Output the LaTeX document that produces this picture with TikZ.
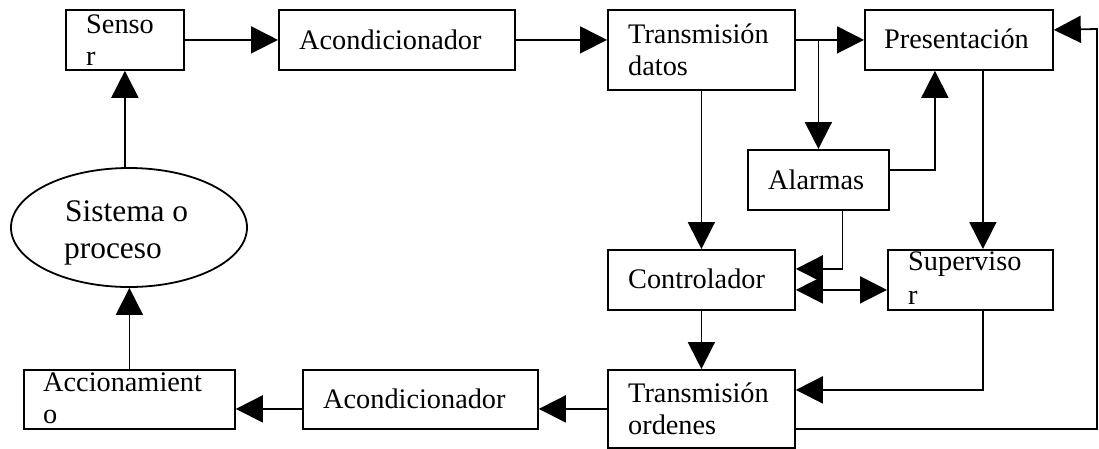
\documentclass[tikz,border=0pt]{standalone}
\usepackage{fontspec}
\setmainfont{Liberation Serif}
\usetikzlibrary{arrows.meta,shapes.geometric}

\begin{document}
\begin{tikzpicture}[x=1pt,y=-1pt,
  box/.style={draw, line width=1.8pt, rectangle, inner sep=0pt, anchor=north west},
  lbl/.style={anchor=base west, inner sep=0pt, font=\fontsize{28.3}{32}\selectfont},
  biglbl/.style={anchor=base west, inner sep=0pt, font=\fontsize{31.4}{36}\selectfont},
  arr/.style={line width=1.8pt, -{Triangle[length=27pt,width=27pt]}},
  arrboth/.style={line width=1.8pt, {Triangle[length=27pt,width=27pt]}-{Triangle[length=27pt,width=27pt]}},
  wire/.style={line width=1.8pt}]

\useasboundingbox (0,0) rectangle (1099,448);

% blocks
\node[box, minimum width=118pt, minimum height=60pt] (sensor) at (65,9) {};
\node[box, minimum width=236pt, minimum height=60pt] (acond1) at (278,9) {};
\node[box, minimum width=187pt, minimum height=80pt] (tdatos) at (607,9) {};
\node[box, minimum width=188pt, minimum height=60pt] (pres) at (864,9) {};
\node[box, minimum width=141pt, minimum height=60pt] (alarm) at (747,149) {};
\node[box, minimum width=187pt, minimum height=60pt] (ctrl) at (607,249) {};
\node[box, minimum width=165pt, minimum height=60pt] (sup) at (887,249) {};
\node[box, minimum width=187pt, minimum height=78pt] (tord) at (607,369) {};
\node[box, minimum width=235pt, minimum height=59pt] (acond2) at (302,369) {};
\node[box, minimum width=211pt, minimum height=59pt] (acc) at (23,369) {};
\node[draw, line width=1.8pt, ellipse, inner sep=0pt, minimum width=236pt, minimum height=119pt] (proc) at (129,227.5) {};

% block texts
\node[lbl] (tSensorA) at (86,33.3) {Senso};
\node[lbl] (tSensorB) at (86,65.7) {r};
\node[lbl] (tAcond1) at (299,49) {Acondicionador};
\node[lbl] (tTdatosA) at (628,43.3) {Transmisión};
\node[lbl] (tTdatosB) at (628,75) {datos};
\node[lbl] (tPres) at (884,48.3) {Presentación};
\node[lbl] (tAlarm) at (768,189.3) {Alarmas};
\node[lbl] (tCtrl) at (628,288) {Controlador};
\node[lbl] (tSupA) at (908,270) {Superviso};
\node[lbl] (tSupB) at (908,304) {r};
\node[lbl] (tTordA) at (628,402.7) {Transmisión};
\node[lbl] (tTordB) at (628,434) {ordenes};
\node[lbl] (tAcond2) at (323,408) {Acondicionador};
\node[lbl] (tAccA) at (43,391.7) {Accionamient};
\node[lbl] (tAccB) at (43,423) {o};
\node[biglbl] (tProcA) at (65,221.7) {Sistema o};
\node[biglbl] (tProcB) at (64,258.3) {proceso};

% helper points
\coordinate (colR) at ([xshift=24pt]pres.south);
\coordinate (colL) at ([xshift=-24pt]pres.south);
\coordinate (loopR) at (1097,29);

% forward chain
\draw[arr] (sensor.south |- proc.north) -- (sensor.south);
\draw[arr] (sensor.east) -- (acond1.west);
\draw[arr] (acond1.east) -- (acond1.east -| tdatos.west);
\draw[arr] (tdatos.east |- pres.west) -- (pres.west);
\draw[arr] (alarm.north |- pres.west) -- (alarm.north);
\draw[arr] ([yshift=10pt]alarm.east) -| (colL);
\draw[arr] (colR) -- (colR |- sup.north);
\draw[arr] (tdatos.south) -- (ctrl.north);
\draw[arr] ([xshift=24pt]alarm.south) |- ([yshift=11pt]ctrl.east);
\draw[arrboth] ([yshift=-10pt]ctrl.east) -- ([yshift=-10pt]ctrl.east -| sup.west);
\draw[arr] (ctrl.south) -- (tord.north);
\draw[arr] (colR |- sup.south) |- ([yshift=19pt]tord.east);
\draw[arr] ([yshift=-20pt]tord.east) -| (loopR) -- ([yshift=10pt]pres.east);

% return chain
\draw[arr] (tord.west) -- (tord.west -| acond2.east);
\draw[arr] (acond2.west |- tord.west) -- (acc.east |- tord.west);
\draw[arr] (acc.north) -- (acc.north |- proc.south);

\end{tikzpicture}
\end{document}
